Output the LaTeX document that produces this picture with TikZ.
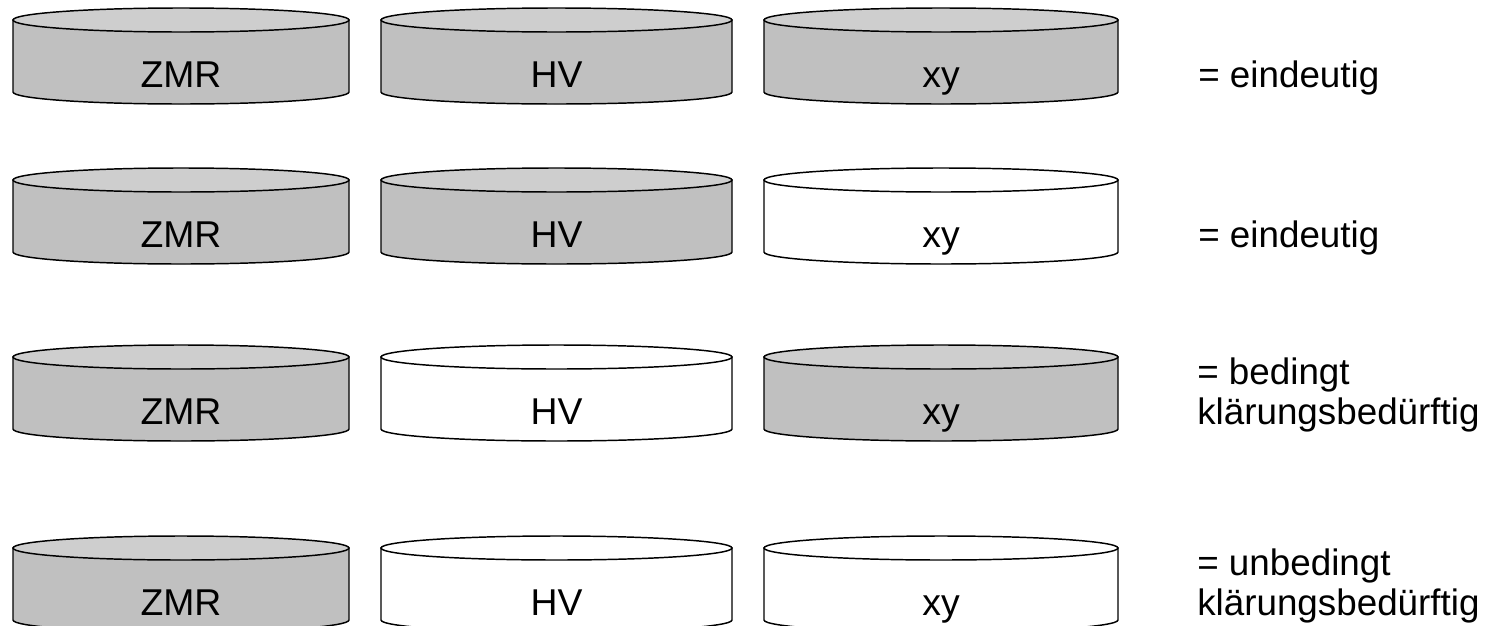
\documentclass[tikz,border=0pt]{standalone}
\usepackage{fontspec}
\setmainfont{Liberation Sans}
\definecolor{canbody}{RGB}{192,192,192}
\definecolor{cantop}{RGB}{206,206,206}
\tikzset{
  can line/.style={draw=black, line width=1.1pt},
  can text/.style={anchor=base, inner sep=0pt, font=\fontsize{28}{30}\selectfont},
  side text/.style={anchor=base west, inner sep=0pt, align=left,
    font=\fontsize{27.6}{30}\selectfont},
}
% \drawcan{name}{left x}{right x}{y of side top}{body fill}{top fill}{label}
\newcommand\drawcan[7]{%
  \begin{scope}[shift={({(#2+#3)/2},#4)}]
    \pgfmathsetmacro\rx{(#3-#2)/2}
    \filldraw[can line, fill=#5] (-\rx,0) -- (-\rx,72)
      .. controls (-\rx,78.63) and ({-0.5523*\rx},84) .. (0,84)
      .. controls ({0.5523*\rx},84) and (\rx,78.63) .. (\rx,72)
      -- (\rx,0) -- cycle;
    \filldraw[can line, fill=#6] (0,0) ellipse[x radius=\rx, y radius=12];
    \node[can text] (#1) at (0,67) {#7};
  \end{scope}}
\begin{document}
\begin{tikzpicture}[x=0.75pt, y=-0.75pt]
  \useasboundingbox (0,0) rectangle (1485,625);

  % row 1
  \drawcan{zmrA}{13}{349}{20}{canbody}{cantop}{ZMR}
  \drawcan{hvA}{381}{732}{20}{canbody}{cantop}{HV}
  \drawcan{xyA}{764}{1118}{20}{canbody}{cantop}{xy}
  \node[side text] (resA) at (1198,87) {= eindeutig};

  % row 2
  \drawcan{zmrB}{13}{349}{180}{canbody}{cantop}{ZMR}
  \drawcan{hvB}{381}{732}{180}{canbody}{cantop}{HV}
  \drawcan{xyB}{764}{1118}{180}{white}{white}{xy}
  \node[side text] (resB) at (1198,247) {= eindeutig};

  % row 3 (base anchor sits on the last line)
  \drawcan{zmrC}{13}{349}{357}{canbody}{cantop}{ZMR}
  \drawcan{hvC}{381}{732}{357}{white}{white}{HV}
  \drawcan{xyC}{764}{1118}{357}{canbody}{cantop}{xy}
  \node[side text] (resC) at (1197,424) {= bedingt\\klärungsbedürftig};

  % row 4
  \drawcan{zmrD}{13}{349}{548}{canbody}{cantop}{ZMR}
  \drawcan{hvD}{381}{732}{548}{white}{white}{HV}
  \drawcan{xyD}{764}{1118}{548}{white}{white}{xy}
  \node[side text] (resD) at (1197,615) {= unbedingt\\klärungsbedürftig};
\end{tikzpicture}
\end{document}
